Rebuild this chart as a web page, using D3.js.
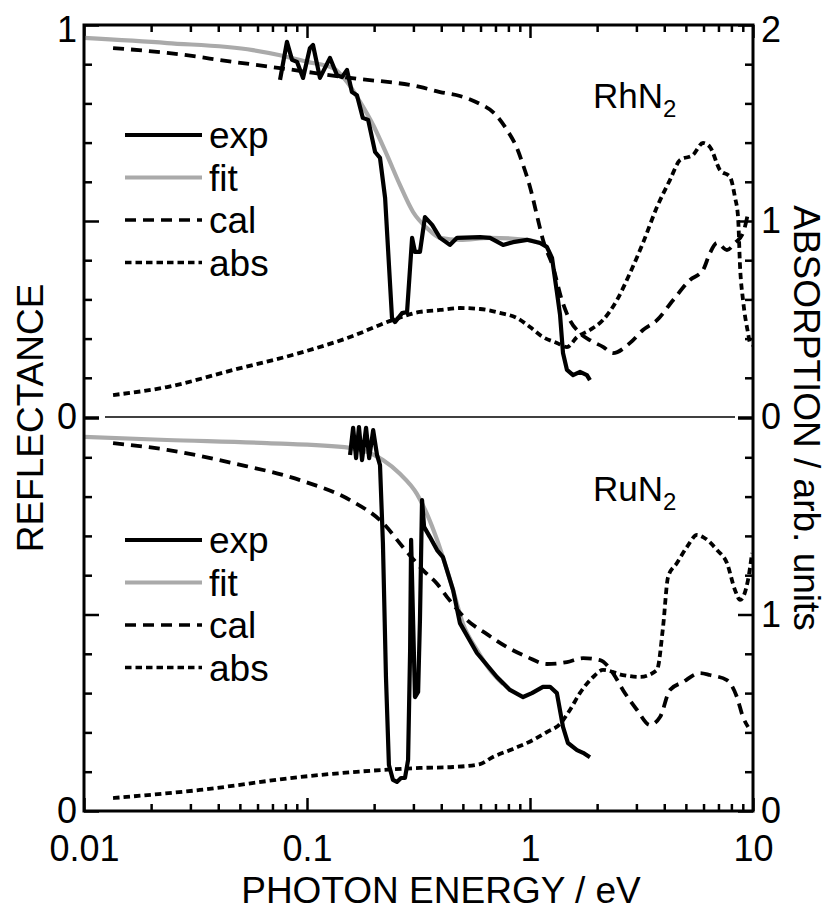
<!DOCTYPE html>
<html>
<head>
  <meta charset="utf-8">
  <title>RhN2 / RuN2 reflectance</title>
  <script src="https://cdn.jsdelivr.net/npm/d3@7"></script>
  <style>
    body { margin: 0; background: #fff; }
    svg { font-family: "Liberation Sans", Arial, sans-serif; }
    .frame { fill: none; stroke: #000; stroke-width: 3; }
    .axis .domain { display: none; }
    .axis .tick line { stroke: #000; stroke-width: 2.5; }
    .axis .tick text { font-size: 36px; fill: #000; font-family: "Liberation Sans", Arial, sans-serif; }
    .title { font-size: 37px; fill: #000; }
    .curve { fill: none; stroke-linejoin: round; }
    .curve.exp { stroke: #000; stroke-width: 4.2; }
    .curve.fit { stroke: #aaaaaa; stroke-width: 4.2; }
    .curve.cal { stroke: #000; stroke-width: 3.8; stroke-dasharray: 11, 7; }
    .curve.abs { stroke: #000; stroke-width: 3.8; stroke-dasharray: 6.5, 4; }
    .legend text { font-size: 37px; fill: #000; }
    .sample { font-size: 35px; fill: #000; }
  </style>
</head>
<body>
<script>

  // energies in eV, reflectance 0..1, absorption in arb. units 0..2
  var energyLabels = [0.01, 0.1, 1, 10];
  var legendNames = ["exp", "fit", "cal", "abs"];

  var rhExp = [[0.0757,0.860],[0.0813,0.957],[0.0857,0.911],[0.0902,0.906],[0.096,0.865],[0.103,0.941],
    [0.1064,0.949],[0.1143,0.865],[0.1268,0.916],[0.1364,0.872],[0.1435,0.867],[0.1512,0.885],[0.159,0.829],
    [0.1675,0.821],[0.178,0.763],[0.188,0.758],[0.202,0.676],[0.2125,0.661],[0.224,0.559],[0.2405,0.253],
    [0.248,0.242],[0.267,0.265],[0.281,0.268],[0.296,0.457],[0.305,0.421],[0.321,0.421],[0.338,0.510],
    [0.364,0.490],[0.395,0.457],[0.437,0.439],[0.471,0.457],[0.597,0.459],[0.662,0.457],[0.757,0.439],
    [0.839,0.446],[0.970,0.452],[1.109,0.444],[1.19,0.434],[1.255,0.406],[1.32,0.319],[1.364,0.260],
    [1.406,0.163],[1.465,0.120],[1.56,0.107],[1.676,0.115],[1.80,0.107],[1.857,0.094]];

  var rhFit = [[0.01,0.967],[0.0236,0.954],[0.0572,0.936],[0.0757,0.923],[0.1,0.906],[0.131,0.890],
    [0.1512,0.855],[0.173,0.804],[0.198,0.745],[0.2285,0.668],[0.261,0.592],[0.299,0.523],[0.345,0.482],
    [0.395,0.457],[0.485,0.452],[0.662,0.457],[0.97,0.452],[1.167,0.441]];

  var rhCal = [[0.0135,0.941],[0.0236,0.929],[0.0466,0.906],[0.0757,0.890],[0.156,0.865],[0.321,0.842],
    [0.395,0.829],[0.485,0.819],[0.585,0.801],[0.697,0.773],[0.789,0.732],[0.874,0.686],[0.931,0.643],
    [1.0,0.587],[1.086,0.503],[1.143,0.452],[1.268,0.383],[1.39,0.298],[1.51,0.247],[1.676,0.214],
    [1.857,0.196],[2.125,0.179],[2.355,0.163],[2.81,0.189],[3.21,0.222],[3.71,0.247],[4.38,0.298],
    [5.21,0.349],[5.97,0.375],[6.41,0.418],[6.90,0.444],[7.64,0.426],[8.30,0.444],[9.02,0.469],[9.50,0.520]];

  var rhAbs = [[0.0135,0.112],[0.0236,0.153],[0.0466,0.240],[0.093,0.327],[0.156,0.408],[0.243,0.495],
    [0.321,0.536],[0.395,0.546],[0.485,0.556],[0.597,0.551],[0.733,0.531],[0.874,0.505],[1.0,0.459],
    [1.143,0.408],[1.32,0.378],[1.465,0.357],[1.625,0.408],[1.857,0.444],[2.125,0.495],[2.455,0.597],
    [2.81,0.735],[3.21,0.888],[3.71,1.071],[4.24,1.209],[4.71,1.311],[5.38,1.337],[5.97,1.398],
    [6.41,1.378],[7.11,1.260],[7.89,1.224],[8.30,1.122],[8.57,1.020],[8.75,0.765],[9.02,0.597],
    [9.50,0.429],[9.70,0.378],[10,0.367]];

  var ruExp = [[0.156,0.906],[0.161,0.975],[0.166,0.898],[0.171,0.977],[0.1765,0.893],[0.184,0.975],
    [0.190,0.898],[0.198,0.969],[0.206,0.906],[0.2125,0.880],[0.219,0.682],[0.226,0.341],[0.233,0.117],
    [0.243,0.079],[0.253,0.074],[0.264,0.084],[0.275,0.084],[0.284,0.130],[0.290,0.410],[0.293,0.690],
    [0.299,0.486],[0.305,0.290],[0.315,0.303],[0.321,0.486],[0.328,0.791],[0.335,0.723],[0.356,0.697],
    [0.383,0.664],[0.407,0.646],[0.452,0.562],[0.485,0.478],[0.578,0.402],[0.711,0.341],[0.813,0.308],
    [0.931,0.290],[1.02,0.300],[1.143,0.316],[1.23,0.316],[1.32,0.300],[1.406,0.214],[1.48,0.173],
    [1.625,0.155],[1.73,0.148],[1.857,0.137]];

  var ruFit = [[0.01,0.952],[0.0236,0.944],[0.0662,0.936],[0.156,0.924],[0.219,0.893],[0.261,0.858],
    [0.311,0.807],[0.345,0.756],[0.383,0.690],[0.452,0.562],[0.501,0.476],[0.578,0.410],[0.662,0.359],
    [0.757,0.323]];

  var ruCal = [[0.0135,0.936],[0.0236,0.919],[0.0466,0.885],[0.093,0.842],[0.156,0.791],[0.219,0.733],
    [0.269,0.672],[0.331,0.613],[0.383,0.578],[0.424,0.545],[0.522,0.486],[0.641,0.450],[0.789,0.417],
    [0.970,0.392],[1.19,0.374],[1.465,0.379],[1.73,0.389],[2.06,0.384],[2.355,0.351],[2.61,0.308],
    [3.02,0.257],[3.45,0.219],[3.83,0.239],[4.24,0.308],[4.85,0.328],[5.78,0.351],[6.41,0.346],
    [7.64,0.333],[8.47,0.290],[9.02,0.239],[9.50,0.214]];

  var ruAbs = [[0.0135,0.066],[0.0331,0.107],[0.093,0.173],[0.219,0.209],[0.321,0.219],[0.452,0.224],
    [0.597,0.239],[0.682,0.275],[0.839,0.316],[1.031,0.361],[1.19,0.402],[1.364,0.443],[1.51,0.514],
    [1.676,0.601],[1.92,0.682],[2.125,0.718],[2.61,0.692],[3.11,0.682],[3.71,0.718],[3.95,0.936],
    [4.16,1.191],[4.56,1.262],[5.06,1.344],[5.61,1.405],[5.97,1.394],[6.90,1.328],[7.64,1.262],
    [8.30,1.125],[8.75,1.074],[9.50,1.176],[9.90,1.313]];

  var svgW = 829, svgH = 911,
      plotL = 84, plotR = 753, plotT = 25, plotM = 417, plotB = 811;

  var svg = d3.select("body").append("svg")
      .attr("width", svgW)
      .attr("height", svgH);

  var x = d3.scaleLog()
      .domain([0.01, 10])
      .range([plotL, plotR]);

  var minorE = [];
  [0.01, 0.1, 1].forEach(function (dec) {
    for (var k = 2; k <= 9; k++) minorE.push(dec * k);
  });

  function panel(y0, y1, name, sets, leftLabels, rightLabels, legendTop) {
    var yR = d3.scaleLinear().domain([0, 1]).range([y1, y0]);
    var yA = d3.scaleLinear().domain([0, 2]).range([y1, y0]);

    // left axis, ticks pointing in
    svg.append("g")
        .attr("class", "axis")
        .attr("transform", "translate(" + plotL + ",0)")
        .call(d3.axisLeft(yR).tickValues([0, 0.5, 1]).tickSize(-15).tickPadding(7)
            .tickFormat(function (v) { return leftLabels.indexOf(v) >= 0 ? d3.format("d")(v) : ""; }))
        .selectAll("text")
        .attr("dy", function (v) { return v === 1 && y0 === plotT ? "0.47em" : "0.32em"; });

    svg.append("g")
        .attr("class", "axis")
        .attr("transform", "translate(" + plotL + ",0)")
        .call(d3.axisLeft(yR).tickValues([0.1, 0.2, 0.3, 0.4, 0.6, 0.7, 0.8, 0.9]).tickSize(-8).tickFormat(""));

    // right axis
    svg.append("g")
        .attr("class", "axis")
        .attr("transform", "translate(" + plotR + ",0)")
        .call(d3.axisRight(yA).tickValues([0, 1, 2]).tickSize(-15).tickPadding(8)
            .tickFormat(function (v) { return rightLabels.indexOf(v) >= 0 ? d3.format("d")(v) : ""; }))
        .selectAll("text")
        .attr("dy", function (v) { return v === 2 && y0 === plotT ? "0.47em" : "0.32em"; });

    svg.append("g")
        .attr("class", "axis")
        .attr("transform", "translate(" + plotR + ",0)")
        .call(d3.axisRight(yA).tickValues([0.2, 0.4, 0.6, 0.8, 1.2, 1.4, 1.6, 1.8]).tickSize(-8).tickFormat(""));

    var lineR = d3.line()
        .x(function (d) { return x(d[0]); })
        .y(function (d) { return yR(d[1]); });

    var smoothR = d3.line()
        .curve(d3.curveMonotoneX)
        .x(function (d) { return x(d[0]); })
        .y(function (d) { return yR(d[1]); });

    var smoothA = d3.line()
        .curve(d3.curveMonotoneX)
        .x(function (d) { return x(d[0]); })
        .y(function (d) { return yA(d[1]); });

    svg.append("path").attr("class", "curve fit").attr("d", smoothR(sets.fit));
    svg.append("path").attr("class", "curve cal").attr("d", smoothR(sets.cal));
    svg.append("path").attr("class", "curve abs").attr("d", smoothA(sets.abs));
    svg.append("path").attr("class", "curve exp").attr("d", lineR(sets.exp));

    // legend
    var legend = svg.append("g").attr("class", "legend");
    legendNames.forEach(function (key, i) {
      var ly = y0 + legendTop + i * 42.5;
      legend.append("line")
          .attr("class", "curve " + key)
          .attr("x1", 125).attr("x2", 202)
          .attr("y1", ly).attr("y2", ly)
          .style("stroke-width", key === "exp" || key === "fit" ? 4.2 : 3.6);
      legend.append("text")
          .attr("x", 209)
          .attr("y", ly + 13)
          .text(key);
    });

    // sample name with subscript
    var label = svg.append("text")
        .attr("class", "sample")
        .attr("x", 593)
        .attr("y", y0 + 83)
        .text(name);
    label.append("tspan")
        .attr("dy", 9)
        .style("font-size", "24px")
        .text("2");
  }

  // x axes, ticks pointing in
  svg.append("g")
      .attr("class", "axis")
      .attr("transform", "translate(0," + plotB + ")")
      .call(d3.axisBottom(x).tickValues(energyLabels).tickSize(-13).tickPadding(24)
          .tickFormat(function (v) { return String(v); }));

  svg.append("g")
      .attr("class", "axis")
      .attr("transform", "translate(0," + plotB + ")")
      .call(d3.axisBottom(x).tickValues(minorE).tickSize(-7).tickFormat(""));

  svg.append("g")
      .attr("class", "axis")
      .attr("transform", "translate(0," + plotT + ")")
      .call(d3.axisTop(x).tickValues(energyLabels).tickSize(-13).tickFormat(""));

  svg.append("g")
      .attr("class", "axis")
      .attr("transform", "translate(0," + plotT + ")")
      .call(d3.axisTop(x).tickValues(minorE).tickSize(-7).tickFormat(""));

  panel(plotT, plotM, "RhN", {exp: rhExp, fit: rhFit, cal: rhCal, abs: rhAbs}, [0, 1], [0, 1, 2], 110);
  panel(plotM + 1, plotB, "RuN", {exp: ruExp, fit: ruFit, cal: ruCal, abs: ruAbs}, [0], [0, 1], 122);

  // separator between the two panels
  svg.append("line")
      .attr("x1", plotL + 21).attr("x2", plotR - 18)
      .attr("y1", plotM).attr("y2", plotM)
      .attr("stroke", "#000")
      .attr("stroke-width", 1.5);

  svg.append("rect")
      .attr("class", "frame")
      .attr("x", plotL).attr("y", plotT)
      .attr("width", plotR - plotL)
      .attr("height", plotB - plotT);

  // axis titles
  svg.append("text")
      .attr("class", "title")
      .attr("transform", "translate(43," + (plotT + plotB) / 2 + ") rotate(-90)")
      .attr("text-anchor", "middle")
      .text("REFLECTANCE");

  svg.append("text")
      .attr("class", "title")
      .attr("transform", "translate(794," + (plotT + plotB) / 2 + ") rotate(90)")
      .attr("text-anchor", "middle")
      .text("ABSORPTION / arb. units");

  svg.append("text")
      .attr("class", "title")
      .attr("x", 441)
      .attr("y", 903)
      .attr("text-anchor", "middle")
      .text("PHOTON ENERGY / eV");

</script>
</body>
</html>
